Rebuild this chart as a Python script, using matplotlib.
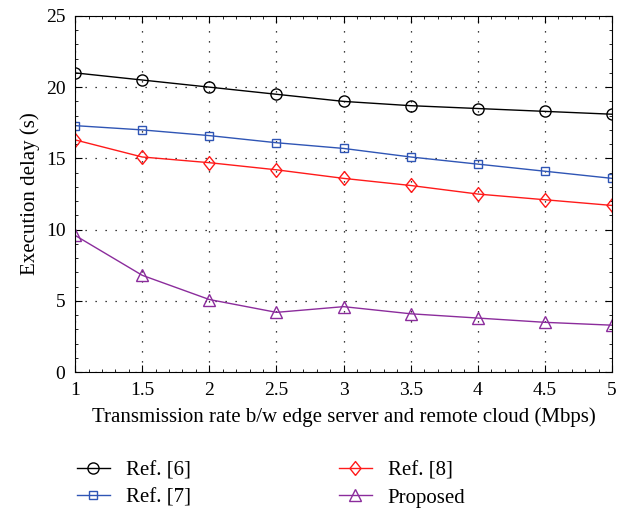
import numpy as np
import matplotlib.pyplot as plt
from matplotlib.ticker import MultipleLocator

plt.rcParams['font.family'] = ['Liberation Serif', 'DejaVu Serif']

# Transmission rate (Mbps) and execution delay (s) for each scheme
rate = [1, 1.5, 2, 2.5, 3, 3.5, 4, 4.5, 5]
ref6 = [21.0, 20.5, 20.0, 19.5, 19.0, 18.7, 18.5, 18.3, 18.1]
ref7 = [17.3, 17.0, 16.6, 16.1, 15.7, 15.1, 14.6, 14.1, 13.6]
ref8 = [16.3, 15.1, 14.7, 14.2, 13.6, 13.1, 12.5, 12.1, 11.7]
proposed = [9.6, 6.8, 5.1, 4.2, 4.6, 4.1, 3.8, 3.5, 3.3]

# slightly tall diamond like the original
diamond = [(0, -1), (0.8, 0), (0, 1), (-0.8, 0), (0, -1)]

fig = plt.figure(figsize=(6.31, 5.12), dpi=100)
ax = fig.add_axes([0.119, 0.273, 0.851, 0.696])

ax.plot(rate, ref6, color='black', marker='o', ms=8, mfc='none', lw=1, label='Ref. [6]')
ax.plot(rate, ref7, color='#2f55b5', marker='s', ms=6, mfc='none', lw=1, label='Ref. [7]')
ax.plot(rate, ref8, color='#ff1a1a', marker=diamond, ms=10, mfc='none', lw=1, label='Ref. [8]')
ax.plot(rate, proposed, color='#8b2c9c', marker='^', ms=9, mfc='none', lw=1, label='Proposed')

ax.set_xlim(1, 5)
ax.set_ylim(0, 25)
ax.xaxis.set_major_locator(MultipleLocator(0.5))
ax.xaxis.set_minor_locator(MultipleLocator(0.1))
ax.yaxis.set_major_locator(MultipleLocator(5))
ax.yaxis.set_minor_locator(MultipleLocator(1))
ax.tick_params(which='both', direction='in', top=True, right=True, labelsize=14)
ax.tick_params(which='major', length=5, pad=7)
ax.tick_params(which='minor', length=2.5)
ax.xaxis.set_major_formatter(plt.FuncFormatter(lambda v, p: f'{v:g}'))
ax.grid(True, linestyle=(0, (1, 7)), color='black', lw=0.9)

ax.set_xlabel('Transmission rate b/w edge server and remote cloud (Mbps)', fontsize=15, labelpad=6)
ax.set_ylabel('Execution delay (s)', fontsize=15)

fig.legend(loc='lower left', bbox_to_anchor=(0.092, -0.028), ncol=2, frameon=False,
           fontsize=15, columnspacing=7.1, handlelength=1.6, handletextpad=0.75,
           labelspacing=0.35)

fig.savefig('out.png', dpi=100)
